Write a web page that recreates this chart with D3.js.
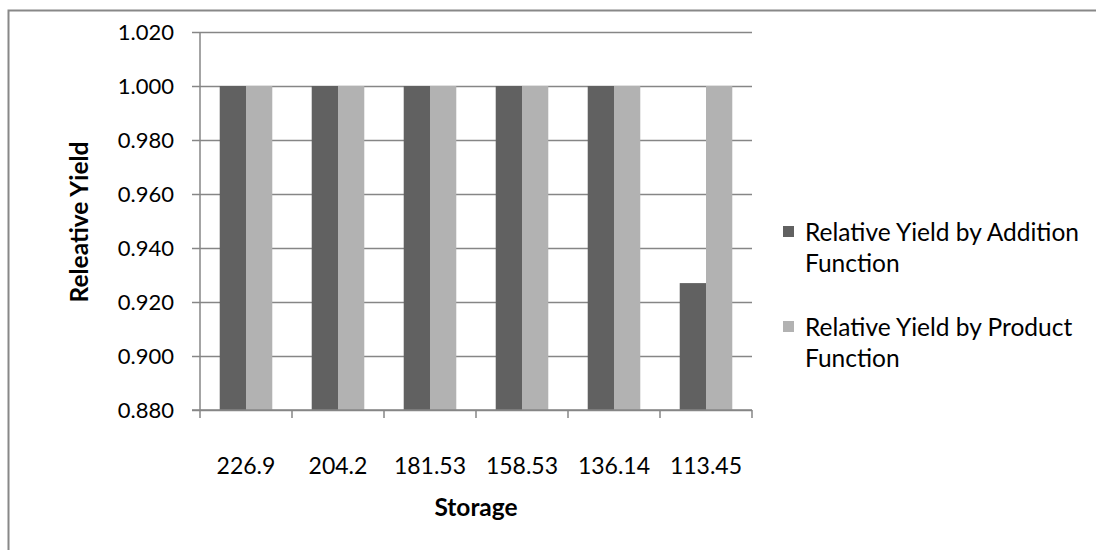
<!DOCTYPE html>
<html>
<head>
<meta charset="utf-8">
<script src="https://cdn.jsdelivr.net/npm/d3@7"></script>
<style>
  html, body { margin: 0; padding: 0; background: #fff; }
  svg { display: block; font-family: Lato, "Open Sans", sans-serif; }
</style>
</head>
<body>
<svg id="chart" width="1096" height="550"></svg>
<script>
// Storage levels (x categories) and relative yields for the two functions
const categories = ["226.9", "204.2", "181.53", "158.53", "136.14", "113.45"];
const additionYield = [1.000, 1.000, 1.000, 1.000, 1.000, 0.927];
const productYield = [1.000, 1.000, 1.000, 1.000, 1.000, 1.000];
const seriesNames = ["Relative Yield by Addition Function", "Relative Yield by Product Function"];
const yTicks = [0.880, 0.900, 0.920, 0.940, 0.960, 0.980, 1.000, 1.020];

const seriesColors = ["#616161", "#b2b2b2"];
const series = [additionYield, productYield];

const svg = d3.select("#chart");

// outer chart frame (extends past the right and bottom edges)
svg.append("rect")
  .attr("x", 8.5).attr("y", 10.5)
  .attr("width", 1200).attr("height", 600)
  .attr("fill", "none").attr("stroke", "#888").attr("stroke-width", 2);

const plot = { left: 200, right: 752, top: 32, bottom: 410 };

const x = d3.scaleBand().domain(categories).range([plot.left, plot.right]).padding(0);
const y = d3.scaleLinear().domain([0.88, 1.02]).range([plot.bottom, plot.top]);

// bars: two per category, gap = 150% of bar width
const barW = x.bandwidth() / 3.5;
const xInner = d3.scaleBand().domain([0, 1])
  .range([barW * 0.75, barW * 2.75]).padding(0);

// gridlines with outward tick marks
const yAxis = d3.axisLeft(y).tickValues(yTicks)
  .tickFormat(d3.format(".3f"))
  .tickSize(-(plot.right - plot.left)).tickPadding(26);
const gy = svg.append("g").attr("transform", `translate(${plot.left},0)`).call(yAxis);
gy.select(".domain").remove();
gy.selectAll(".tick line").attr("x1", -8).attr("stroke", "#868686").attr("stroke-width", 1.5);
gy.selectAll(".tick text").attr("font-size", 22).attr("fill", "#000")
  .attr("font-family", "Lato, sans-serif");

// bars
const groups = svg.append("g").selectAll("g")
  .data(categories).join("g")
  .attr("transform", d => `translate(${x(d)},0)`);
series.forEach((vals, si) => {
  groups.append("rect")
    .attr("x", xInner(si))
    .attr("width", xInner.bandwidth())
    .attr("y", (d, i) => y(vals[i]))
    .attr("height", (d, i) => y(0.88) - y(vals[i]))
    .attr("fill", seriesColors[si]);
});

// y axis line
svg.append("line")
  .attr("x1", plot.left).attr("x2", plot.left)
  .attr("y1", plot.top).attr("y2", plot.bottom)
  .attr("stroke", "#868686").attr("stroke-width", 1.5);

// x axis with ticks between categories
const xAxisG = svg.append("g");
xAxisG.append("line")
  .attr("x1", plot.left - 8).attr("x2", plot.right)
  .attr("y1", plot.bottom).attr("y2", plot.bottom)
  .attr("stroke", "#868686").attr("stroke-width", 1.5);
const boundaries = categories.map(c => x(c)).concat([x(categories[categories.length - 1]) + x.bandwidth()]);
xAxisG.selectAll("line.tk").data(boundaries).join("line")
  .attr("class", "tk")
  .attr("x1", d => d).attr("x2", d => d)
  .attr("y1", plot.bottom).attr("y2", plot.bottom + 8)
  .attr("stroke", "#868686").attr("stroke-width", 1.5);
xAxisG.selectAll("text").data(categories).join("text")
  .attr("x", d => x(d) + x.bandwidth() / 2)
  .attr("y", 466)
  .attr("dy", "0.35em")
  .attr("text-anchor", "middle")
  .attr("font-size", 23)
  .text(d => d);

// axis titles
svg.append("text")
  .attr("x", 476).attr("y", 507).attr("dy", "0.35em")
  .attr("text-anchor", "middle")
  .attr("font-size", 24.5).attr("font-weight", "bold")
  .text("Storage");
svg.append("text")
  .attr("transform", "translate(79,222) rotate(-90)")
  .attr("dy", "0.35em")
  .attr("text-anchor", "middle")
  .attr("font-size", 24.5).attr("font-weight", "bold")
  .text("Releative Yield");

// legend
const legendRows = [
  ["Relative Yield by Addition", "Function"],
  ["Relative Yield by Product", "Function"]
];
const legend = svg.append("g");
legendRows.forEach((lines, i) => {
  const top = 232 + i * 95;
  legend.append("rect")
    .attr("x", 783).attr("y", top - 6)
    .attr("width", 11).attr("height", 11)
    .attr("fill", seriesColors[i]);
  lines.forEach((t, j) => {
    legend.append("text")
      .attr("x", 805).attr("y", top + j * 31)
      .attr("dy", "0.35em")
      .attr("font-size", 24.5)
      .text(t);
  });
});
</script>
</body>
</html>
